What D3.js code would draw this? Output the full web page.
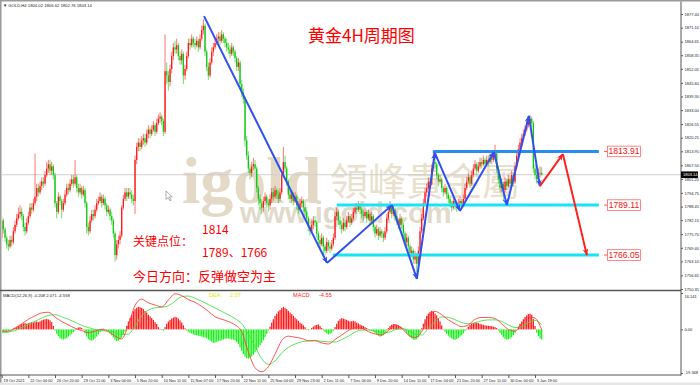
<!DOCTYPE html>
<html><head><meta charset="utf-8">
<script src="https://cdn.jsdelivr.net/npm/d3@7/dist/d3.min.js"></script>
<style>
html,body{margin:0;padding:0;background:#fff;overflow:hidden}
svg{display:block}
</style></head><body>
<script>
// ---------------- DATA ----------------
const opens=[1774,1782,1778,1774,1771,1770,1773,1772,1777,1780,
1783,1785,1786,1784,1779,1777,1781,1784,1788,1787,
1790,1793,1797,1795,1798,1800,1799,1803,1806,1808,
1805,1807,1803,1790,1786,1793,1791,1787,1790,1794,
1797,1796,1799,1801,1799,1802,1797,1795,1797,1794,
1796,1790,1779,1777,1782,1785,1784,1787,1790,1791,
1793,1790,1792,1789,1786,1787,1784,1782,1776,1766,
1771,1773,1775,1788,1792,1795,1793,1795,1794,1792,
1791,1810,1816,1818,1816,1819,1820,1818,1822,1824,
1822,1824,1826,1823,1827,1829,1830,1828,1823,1851,
1849,1846,1852,1858,1862,1861,1863,1858,1856,1859,
1849,1852,1858,1864,1863,1866,1864,1863,1865,1862,
1866,1870,1872,1860,1853,1849,1855,1860,1862,1864,
1866,1867,1865,1868,1866,1864,1862,1861,1859,1862,
1860,1857,1853,1855,1845,1841,1838,1819,1812,1806,
1804,1807,1808,1806,1797,1792,1790,1788,1791,1793,
1790,1789,1792,1795,1793,1796,1794,1792,1795,1803,
1809,1806,1800,1794,1792,1794,1791,1793,1789,1787,
1790,1791,1788,1786,1783,1779,1777,1780,1782,1781,
1776,1773,1771,1774,1770,1768,1772,1770,1769,1771,
1774,1784,1786,1782,1780,1778,1781,1779,1782,1784,
1781,1783,1786,1788,1787,1789,1787,1785,1784,1786,
1783,1785,1782,1784,1779,1776,1778,1775,1777,1776,
1774,1777,1783,1786,1788,1785,1787,1784,1782,1780,
1783,1780,1776,1772,1774,1770,1767,1768,1764,1766,
1762,1768,1777,1783,1790,1795,1797,1800,1799,1806,
1809,1808,1803,1800,1801,1797,1795,1797,1794,1792,
1790,1788,1791,1789,1788,1790,1791,1789,1792,1797,
1800,1802,1799,1803,1806,1808,1805,1807,1809,1808,
1810,1808,1810,1809,1811,1810,1812,1813,1806,1801,
1797,1799,1796,1800,1798,1801,1799,1803,1800,1807,
1812,1815,1818,1820,1822,1824,1826,1828,1829,1827,
1806,1803,1801,1804,1804.02];
const highs=[1784,1783,1779,1775,1773,1775,1775,1779,1782,1785,
1788,1789,1788,1785,1781,1783,1786,1790,1790,1792,
1813,1799,1799,1800,1802,1802,1805,1809,1810,1810,
1809,1808,1804,1791,1795,1794,1792,1792,1796,1799,
1799,1801,1803,1803,1810,1803,1799,1799,1798,1798,
1797,1791,1781,1784,1787,1787,1789,1792,1793,1795,
1794,1794,1793,1790,1789,1788,1786,1783,1777,1773,
1775,1777,1789,1794,1797,1797,1797,1797,1796,1794,
1812,1818,1820,1820,1821,1822,1822,1824,1826,1825,
1826,1828,1827,1829,1831,1832,1831,1829,1868,1855,
1851,1854,1860,1864,1865,1866,1864,1860,1861,1860,
1854,1860,1866,1866,1868,1867,1866,1867,1866,1868,
1872,1875,1873,1861,1855,1857,1862,1864,1866,1868,
1869,1869,1870,1869,1867,1866,1864,1863,1864,1863,
1861,1858,1857,1856,1847,1843,1839,1821,1814,1808,
1809,1811,1810,1807,1798,1794,1792,1793,1795,1794,
1792,1794,1797,1797,1798,1797,1796,1797,1805,1816,
1812,1807,1801,1796,1796,1795,1795,1794,1791,1792,
1793,1792,1790,1787,1784,1781,1782,1784,1784,1782,
1777,1775,1776,1775,1771,1774,1773,1772,1773,1776,
1786,1788,1787,1784,1782,1783,1782,1784,1786,1785,
1785,1788,1790,1790,1791,1790,1788,1787,1788,1787,
1787,1786,1786,1785,1780,1780,1779,1779,1778,1777,
1779,1785,1788,1791,1789,1789,1788,1786,1783,1785,
1784,1781,1777,1776,1775,1771,1770,1769,1768,1767,
1770,1779,1785,1792,1797,1799,1802,1802,1808,1814,
1811,1809,1804,1803,1802,1798,1799,1798,1795,1793,
1791,1793,1792,1790,1792,1793,1792,1794,1799,1802,
1804,1803,1805,1808,1810,1809,1809,1811,1811,1812,
1811,1812,1812,1813,1813,1814,1817,1814,1807,1802,
1801,1800,1802,1801,1803,1802,1805,1804,1809,1814,
1817,1820,1822,1824,1826,1828,1830,1830.7,1830,1828,
1808,1805,1806,1807,1806.62];
const lows=[1772,1776,1772,1769,1768,1769,1770,1771,1776,1779,
1782,1783,1782,1777,1775,1776,1780,1783,1785,1786,
1789,1791,1793,1794,1796,1797,1798,1802,1804,1803,
1803,1801,1788,1783,1785,1789,1783,1786,1789,1793,
1794,1795,1798,1797,1798,1795,1793,1794,1792,1793,
1788,1776,1775,1776,1781,1782,1783,1786,1789,1790,
1788,1789,1787,1784,1785,1782,1780,1774,1763,1764,
1769,1771,1774,1787,1791,1791,1792,1792,1790,1789,
1785,1808,1814,1814,1815,1817,1816,1817,1820,1820,
1821,1823,1821,1822,1826,1827,1826,1821,1822,1845,
1842,1844,1850,1856,1859,1859,1856,1854,1854,1845,
1847,1851,1857,1861,1862,1862,1861,1862,1860,1861,
1865,1868,1858,1851,1847,1848,1854,1858,1861,1863,
1864,1863,1864,1864,1862,1860,1859,1857,1858,1858,
1855,1851,1851,1843,1839,1836,1816,1810,1804,1801,
1802,1805,1804,1795,1789,1787,1785,1786,1789,1788,
1786,1787,1790,1791,1792,1792,1790,1791,1794,1802,
1804,1798,1792,1790,1790,1789,1790,1787,1785,1786,
1788,1786,1784,1781,1777,1775,1776,1778,1779,1774,
1771,1769,1770,1765,1766,1767,1768,1767,1768,1770,
1773,1782,1780,1778,1776,1777,1777,1778,1781,1779,
1780,1782,1785,1785,1786,1785,1783,1782,1783,1781,
1782,1780,1781,1777,1774,1775,1773,1774,1774,1772,
1773,1776,1782,1785,1783,1784,1782,1780,1778,1779,
1778,1774,1770,1770,1768,1765,1765,1762,1762,1758,
1760,1767,1776,1782,1789,1793,1796,1797,1798,1805,
1806,1801,1798,1799,1795,1793,1794,1792,1790,1788,
1786,1787,1787,1786,1787,1789,1787,1788,1791,1796,
1799,1797,1798,1802,1805,1803,1804,1806,1806,1807,
1806,1807,1807,1808,1808,1809,1810,1804,1799,1795,
1795,1791,1795,1796,1797,1797,1798,1798,1799,1806,
1811,1814,1817,1819,1821,1823,1825,1826,1825,1804,
1801,1799,1800,1802,1802.76];
const closes=[1782,1778,1774,1771,1770,1773,1772,1777,1780,1783,
1785,1786,1784,1779,1777,1781,1784,1788,1787,1790,
1793,1797,1795,1798,1800,1799,1803,1806,1808,1805,
1807,1803,1790,1786,1793,1791,1787,1790,1794,1797,
1796,1799,1801,1799,1802,1797,1795,1797,1794,1796,
1790,1779,1777,1782,1785,1784,1787,1790,1791,1793,
1790,1792,1789,1786,1787,1784,1782,1776,1766,1771,
1773,1775,1788,1792,1795,1793,1795,1794,1792,1791,
1810,1816,1818,1816,1819,1820,1818,1822,1824,1822,
1824,1826,1823,1827,1829,1830,1828,1823,1851,1849,
1846,1852,1858,1862,1861,1863,1858,1856,1859,1849,
1852,1858,1864,1863,1866,1864,1863,1865,1862,1866,
1870,1872,1860,1853,1849,1855,1860,1862,1864,1866,
1867,1865,1868,1866,1864,1862,1861,1859,1862,1860,
1857,1853,1855,1845,1841,1838,1819,1812,1806,1804,
1807,1808,1806,1797,1792,1790,1788,1791,1793,1790,
1789,1792,1795,1793,1796,1794,1792,1795,1803,1809,
1806,1800,1794,1792,1794,1791,1793,1789,1787,1790,
1791,1788,1786,1783,1779,1777,1780,1782,1781,1776,
1773,1771,1774,1770,1768,1772,1770,1769,1771,1774,
1784,1786,1782,1780,1778,1781,1779,1782,1784,1781,
1783,1786,1788,1787,1789,1787,1785,1784,1786,1783,
1785,1782,1784,1779,1776,1778,1775,1777,1776,1774,
1777,1783,1786,1788,1785,1787,1784,1782,1780,1783,
1780,1776,1772,1774,1770,1767,1768,1764,1766,1762,
1768,1777,1783,1790,1795,1797,1800,1799,1806,1809,
1808,1803,1800,1801,1797,1795,1797,1794,1792,1790,
1788,1791,1789,1788,1790,1791,1789,1792,1797,1800,
1802,1799,1803,1806,1808,1805,1807,1809,1808,1810,
1808,1810,1809,1811,1810,1812,1813,1806,1801,1797,
1799,1796,1800,1798,1801,1799,1803,1800,1807,1812,
1815,1818,1820,1822,1824,1826,1828,1829,1827,1806,
1803,1801,1804,1804.02,1803.14];

// MACD histogram, one value per bar
const macdHist=[-0.8,-1.0,-1.2,-1.0,-0.7,-0.5,-0.2,0.4,0.8,1.2,
1.6,2.0,2.3,2.6,2.8,2.5,2.7,3.0,3.2,3.0,
3.3,3.5,3.2,3.6,4.0,4.3,4.5,4.6,4.4,4.0,
3.2,1.5,-0.5,-2.0,-3.0,-3.8,-4.3,-4.5,-4.2,-3.8,
-3.2,-2.6,-2.0,-1.2,-0.5,0.3,0.8,1.0,0.6,-0.3,
-1.8,-3.2,-4.2,-4.8,-5.0,-4.6,-4.0,-3.2,-2.2,-1.2,
-0.5,0.3,0.2,-0.4,-1.0,-1.8,-2.6,-3.6,-4.6,-5.2,
-5.0,-4.5,-3.6,-2.4,-1.0,1.5,3.5,5.0,6.5,8.0,
9.0,9.6,10.0,9.8,9.5,9.0,8.2,7.5,6.5,5.8,
5.0,4.2,3.2,2.4,1.0,0.2,-0.3,-0.6,1.0,2.5,
3.5,4.2,4.8,5.2,5.5,5.3,4.8,4.0,3.0,1.8,
0.5,-0.5,-1.0,-1.5,-1.8,-2.2,-2.5,-2.6,-2.8,-3.0,
-3.2,-3.5,-3.6,-4.0,-4.5,-5.0,-5.5,-6.0,-5.8,-5.5,
-5.2,-5.0,-4.8,-4.5,-4.2,-4.0,-4.0,-4.2,-4.5,-4.5,
-4.8,-5.5,-6.5,-8.0,-9.5,-11.0,-12.0,-12.8,-13.0,-12.6,
-12.0,-11.2,-10.2,-9.2,-8.0,-7.0,-6.0,-4.8,-3.5,-2.0,
-0.5,1.2,3.0,4.5,6.0,7.0,8.0,8.6,9.4,10.0,
9.5,9.0,8.2,7.5,6.8,6.0,5.2,4.5,3.8,3.0,
2.5,1.8,1.0,0.2,-0.4,-0.2,0.6,1.2,1.8,2.0,
2.2,1.5,0.6,-0.5,-1.2,-1.8,-2.2,-2.0,-1.5,-0.6,
1.0,2.5,3.8,4.5,5.0,4.8,4.5,4.2,3.8,3.5,
3.6,3.8,3.5,3.0,2.6,2.2,1.8,1.5,1.0,0.6,
0.2,-0.3,-0.6,-1.0,-1.6,-2.2,-2.8,-3.2,-3.0,-2.6,
-1.8,-0.6,0.6,1.5,2.0,2.4,2.3,2.1,1.8,1.4,
0.8,0.2,-0.8,-1.8,-2.6,-3.4,-4.0,-4.5,-4.6,-4.4,
-3.5,-2.0,0.5,2.5,4.5,6.0,7.0,7.8,8.2,7.8,
7.0,6.2,5.0,3.5,1.8,0.2,-1.0,-2.0,-2.8,-3.5,
-4.0,-4.5,-4.6,-4.3,-3.8,-3.2,-2.6,-1.8,-0.8,0.3,
1.2,2.0,2.5,2.8,3.0,3.0,2.8,2.5,2.2,2.0,
1.8,1.7,1.6,1.5,1.4,1.2,1.0,0.6,-0.5,-1.5,
-2.5,-3.5,-4.2,-4.5,-4.4,-4.0,-3.5,-2.6,-1.5,-0.2,
1.2,2.5,3.5,4.5,5.5,6.2,6.8,7.0,6.5,4.5,
1.5,-1.5,-3.0,-4.0,-4.558];
// MACD lines, one value every 4 bars (bars 0,4,8,...,324)
const macdLineStep=4;
const difLine=[-0.8,-0.8,0.5,2.5,4.5,6,7.3,7.6,5.5,3.5,
2,0.5,-0.5,-1.5,-0.8,0,-1,-3,-4.2,2,
10.6,13.4,11.8,10.8,10,13,15.8,15,13.2,12,
10.2,8,5.6,4.5,3.5,2,-1,-10,-17,-18.8,
-16.5,-11,-5,-3,-3.5,-4,-5,-5,-6,-6.5,
-4.5,-2.5,-0.5,0.8,0.5,-1,-2,-2.5,-0.5,2,
0.5,-2.5,-3.6,-1,6,8,6.5,4.2,2.5,1.2,
2,4.5,5.3,5.3,4.8,2.5,0,-0.8,2.5,5.5,
5,-0.208];
const deaLine=[-1.5,-1.2,-0.5,0.8,2.2,3.6,5,6.2,6.5,5.6,
4.5,3.2,1.8,0.8,0,-0.5,-0.8,-1.5,-2.3,-2,
1.5,6,8.5,9.6,9.8,10.5,12.5,14.5,14.8,13.8,
12.5,11,9.5,8,6.5,4.8,2.5,-2,-7.5,-13,
-15.5,-14,-10.5,-8,-6.5,-5.5,-5.2,-5,-5.3,-5.5,
-5.6,-4.5,-3,-1.2,-0.3,-0.3,-0.8,-1.5,-1.3,-0.2,
0.5,-0.5,-2,-2.5,0.5,3.5,5.5,5.3,4.3,3,
2.5,3,3.8,4.2,4.2,3.5,2,0.8,1.2,3,
4,2.071];

const priceTicks=[1877.40,1871.10,1864.65,1858.35,1852.05,1845.60,1839.30,1833.00,1826.55,1820.25,
1813.95,1807.50,1801.20,1794.75,1788.45,1782.15,1775.70,1769.40,1763.10,1756.65,1750.35];
const macdTicks=[16.141,0,-19.348];
const macdTickLabels=["16.141","0.00","-19.348"];
const timeLabelBars=[0,16,32,48,64,80,96,112,128,144,160,176,192,208,224,240,256,272,288,304,320];
const timeLabels=["19 Oct 2021","22 Oct 04:00","26 Oct 20:00","29 Oct 11:00","3 Nov 04:00","5 Nov 20:00",
"10 Nov 11:00","15 Nov 07:00","17 Nov 20:00","22 Nov 11:00","25 Nov 04:00","29 Nov 23:00","2 Dec 11:00",
"7 Dec 04:00","9 Dec 20:00","14 Dec 11:00","17 Dec 04:00","21 Dec 20:00","27 Dec 11:00","30 Dec 00:00","3 Jan 19:00"];

// analysis drawings (bar index, price)
const waveBars=[121.4,195.2,234.1,249.1,259.9,274.9,295.3,303.1,316.3,322.9];
const wavePrices=[1876.4,1762.4,1789.1,1755.0,1813.2,1786.4,1813.6,1789.1,1830.3,1797.9];
const forecastBars=[322.9,336.7,351.1];
const forecastPrices=[1797.9,1812.7,1766.0];
const levelPrices=[1813.91,1789.11,1766.05];
const levelLabels=["1813.91","1789.11","1766.05"];
const levelStartBars=[258.7,201.1,198.7];
const levelEndBar=358.3;
const lastPrice=1803.14;
const header="\u25BC GOLD,H4  1804.02 1806.62 1802.76 1803.14";

// ---------------- DRAW ----------------
const W=700,H=385;
const UP="#ff1a1a", DOWN="#10c810";
const svg=d3.select("body").append("svg").attr("width",W).attr("height",H)
  .style("font-family","Arial, 'Liberation Sans', sans-serif");
svg.append("rect").attr("width",W).attr("height",H).attr("fill","#fff");

const xs=d3.scaleLinear().domain([0,324]).range([1.7,541.7]);
const ys=d3.scaleLinear().domain([1750.35,1877.40]).range([289,14]);
const ym=d3.scaleLinear().domain([-19.348,16.141]).range([373,293]);

const defs=svg.append("defs");
defs.append("clipPath").attr("id","cm").append("rect").attr("x",2).attr("y",2).attr("width",679).attr("height",288);
defs.append("clipPath").attr("id","cd").append("rect").attr("x",2).attr("y",291.5).attr("width",679).attr("height",83);
function marker(id,color){
  defs.append("marker").attr("id",id).attr("viewBox","0 0 10 10").attr("refX",9).attr("refY",5)
   .attr("markerWidth",7).attr("markerHeight",7).attr("markerUnits","userSpaceOnUse").attr("orient","auto")
   .append("path").attr("d","M0,1 L10,5 L0,9 L3,5 Z").attr("fill",color);
}
marker("ab","#2f4fef"); marker("ar","#ff2020");

// frame
svg.append("rect").attr("x",0).attr("y",0).attr("width",W).attr("height",1.5).attr("fill","#9a9a9a");
svg.append("rect").attr("x",0).attr("y",0).attr("width",1.5).attr("height",H).attr("fill","#9a9a9a");
svg.append("rect").attr("x",0).attr("y",382.5).attr("width",W).attr("height",2.5).attr("fill","#e6e6e6");

// watermark (one text element, three parts)
const wm=svg.append("text").attr("fill","#e3d9c6");
wm.append("tspan").attr("x",182).attr("y",203).text("igold")
  .attr("font-family","'Liberation Serif', serif").attr("font-weight","bold").attr("font-size",66);
wm.append("tspan").attr("x",330).attr("y",195).text("領峰貴金屬")
  .attr("font-family","'Noto Sans CJK TC'").attr("font-size",38).attr("fill","#e8dfcd");
wm.append("tspan").attr("x",240).attr("y",223).text("www.igold.com")
  .attr("font-family","'Liberation Sans', Arial").attr("font-weight","bold").attr("font-size",29).attr("fill","#e1dacb");

// header
svg.append("text").attr("x",3).attr("y",7).text(header).attr("font-size",4.2).attr("fill","#222");

// current price line
svg.append("line").attr("x1",2).attr("x2",681).attr("y1",ys(lastPrice)).attr("y2",ys(lastPrice))
  .attr("stroke","#cfcfcf").attr("stroke-width",1);

// candles
const idx=d3.range(closes.length);
const cg=svg.append("g").attr("clip-path","url(#cm)");
const col=i=>closes[i]>=opens[i]?UP:DOWN;
cg.selectAll("line").data(idx).join("line")
  .attr("x1",i=>xs(i)).attr("x2",i=>xs(i))
  .attr("y1",i=>ys(highs[i])).attr("y2",i=>ys(lows[i]))
  .attr("stroke",col).attr("stroke-width",0.8).attr("stroke-opacity",0.75);
cg.selectAll("rect").data(idx).join("rect")
  .attr("x",i=>xs(i)-0.65).attr("width",1.3)
  .attr("y",i=>ys(Math.max(opens[i],closes[i])))
  .attr("height",i=>Math.max(0.8,Math.abs(ys(opens[i])-ys(closes[i]))))
  .attr("fill",col);

// level lines
const lg=svg.append("g");
levelPrices.forEach((p,k)=>{
  lg.append("line").attr("x1",xs(levelStartBars[k])).attr("x2",xs(levelEndBar))
    .attr("y1",ys(p)).attr("y2",ys(p))
    .attr("stroke",k===0?"#2b8df2":"#18e4f4").attr("stroke-width",3);
  lg.append("line").attr("x1",604).attr("x2",607.5).attr("y1",ys(p)).attr("y2",ys(p)).attr("stroke","#ff3030").attr("stroke-width",0.8);
  lg.append("rect").attr("x",607.5).attr("y",ys(p)-5.3).attr("width",33).attr("height",10.6)
    .attr("fill","#fff").attr("stroke","#ff5050").attr("stroke-width",0.7);
  lg.append("text").attr("x",624).attr("y",ys(p)+3).attr("text-anchor","middle").text(levelLabels[k])
    .attr("font-size",8.6).attr("fill","#ff1010");
});

// wave drawing
const zg=svg.append("g").attr("clip-path","url(#cm)");
for(let k=0;k<waveBars.length-1;k++){
  zg.append("line").attr("x1",xs(waveBars[k])).attr("y1",ys(wavePrices[k]))
    .attr("x2",xs(waveBars[k+1])).attr("y2",ys(wavePrices[k+1]))
    .attr("stroke","#2f4fef").attr("stroke-width",2).attr("marker-end","url(#ab)");
}
for(let k=0;k<forecastBars.length-1;k++){
  zg.append("line").attr("x1",xs(forecastBars[k])).attr("y1",ys(forecastPrices[k]))
    .attr("x2",xs(forecastBars[k+1])).attr("y2",ys(forecastPrices[k+1]))
    .attr("stroke","#ff2020").attr("stroke-width",2).attr("marker-end","url(#ar)");
}

// texts
const cjk="'Noto Sans CJK SC', sans-serif";
svg.append("text").attr("x",308).attr("y",42).text("黄金4H周期图").attr("font-family",cjk).attr("font-size",17).attr("fill","#ff0000");
svg.append("text").attr("x",202).attr("y",234).text("1814").attr("font-family",cjk).attr("font-size",12).attr("fill","#ff0000");
svg.append("text").attr("x",133).attr("y",246).text("关键点位：").attr("font-family",cjk).attr("font-size",12).attr("fill","#ff0000");
svg.append("text").attr("x",202).attr("y",257).text("1789、1766").attr("font-family",cjk).attr("font-size",12).attr("fill","#ff0000");
svg.append("text").attr("x",133).attr("y",281).text("今日方向：反弹做空为主").attr("font-family",cjk).attr("font-size",13).attr("fill","#ff0000");

// cursor
svg.append("path").attr("transform","translate(166,191)")
  .attr("d","M0,0 L0,8.5 L2.2,6.4 L3.9,9.8 L5.1,9.2 L3.5,5.9 L6.3,5.9 Z")
  .attr("fill","#fff").attr("stroke","#777").attr("stroke-width",0.6);

// MACD panel
const mg=svg.append("g").attr("clip-path","url(#cd)");
mg.selectAll("rect").data(idx).join("rect")
  .attr("x",i=>xs(i)-0.6).attr("width",1.2)
  .attr("y",i=>Math.min(ym(macdHist[i]),ym(0)))
  .attr("height",i=>Math.abs(ym(macdHist[i])-ym(0)))
  .attr("fill",i=>macdHist[i]>=0?"#ff1414":"#14f014");
const ln=d3.line().x((d,k)=>xs(k*macdLineStep)).y(d=>ym(d)).curve(d3.curveMonotoneX);
mg.append("path").attr("d",ln(deaLine)).attr("fill","none").attr("stroke","#48e048").attr("stroke-width",0.9);
mg.append("path").attr("d",ln(difLine)).attr("fill","none").attr("stroke","#ff4040").attr("stroke-width",0.9);
svg.append("text").attr("x",3).attr("y",297).text("MACD(12,26,9) -0.208 2.071 -4.558").attr("font-size",4.2).attr("fill","#222");
svg.append("text").attr("x",209).attr("y",297).text("DEA:").attr("font-size",5.6).attr("fill","#e6e600");
svg.append("text").attr("x",230).attr("y",297).text("2.07").attr("font-size",5.6).attr("fill","#e6e600");
svg.append("text").attr("x",293).attr("y",297).text("MACD:").attr("font-size",5.6).attr("fill","#ff2020");
svg.append("text").attr("x",319).attr("y",297).text("-4.55").attr("font-size",5.6).attr("fill","#ff2020");

// separators / axis lines
svg.append("line").attr("x1",0).attr("x2",681).attr("y1",290.5).attr("y2",290.5).attr("stroke","#555").attr("stroke-width",1.3);
svg.append("line").attr("x1",0).attr("x2",681).attr("y1",375).attr("y2",375).attr("stroke","#555").attr("stroke-width",1);
svg.append("line").attr("x1",681).attr("x2",681).attr("y1",1.5).attr("y2",375.5).attr("stroke","#555").attr("stroke-width",1);

// price axis
const pa=svg.append("g").attr("transform","translate(681,0)")
  .call(d3.axisRight(ys).tickValues(priceTicks).tickFormat(d3.format(".2f")).tickSize(2).tickPadding(1.5));
pa.select(".domain").remove();
pa.selectAll("text").attr("font-size",4).attr("fill","#222").attr("font-family","Arial, 'Liberation Sans'");
pa.selectAll("line").attr("stroke","#555");

// macd axis
const ma=svg.append("g").attr("transform","translate(681,0)")
  .call(d3.axisRight(ym).tickValues(macdTicks).tickFormat((d,i)=>macdTickLabels[i]).tickSize(2).tickPadding(1.5));
ma.select(".domain").remove();
ma.selectAll("text").attr("font-size",4).attr("fill","#222").attr("font-family","Arial, 'Liberation Sans'");
ma.selectAll(".tick").filter(d=>d===16.141).select("text").attr("dy","1em");
ma.selectAll(".tick").filter(d=>d===-19.348).select("text").attr("dy","0");
ma.selectAll("line").attr("stroke","#555");

// price box
const pb=svg.append("g");
pb.append("rect").attr("x",681).attr("y",ys(lastPrice)-3.3).attr("width",17).attr("height",6.6).attr("fill","#000");
pb.append("text").attr("x",683).attr("y",ys(lastPrice)+1.5).text(d3.format(".2f")(lastPrice)).attr("font-size",4).attr("fill","#fff");

// time axis
const ta=svg.append("g").attr("transform","translate(0,375)")
  .call(d3.axisBottom(xs).tickValues(timeLabelBars).tickFormat((d,i)=>timeLabels[i]).tickSize(3).tickPadding(1.5));
ta.select(".domain").remove();
ta.selectAll("text").attr("font-size",3.9).attr("fill","#222").attr("text-anchor","start").attr("dx",1.3)
  .attr("font-family","Arial, 'Liberation Sans'");
ta.selectAll("line").attr("stroke","#555");
</script>
</body></html>
